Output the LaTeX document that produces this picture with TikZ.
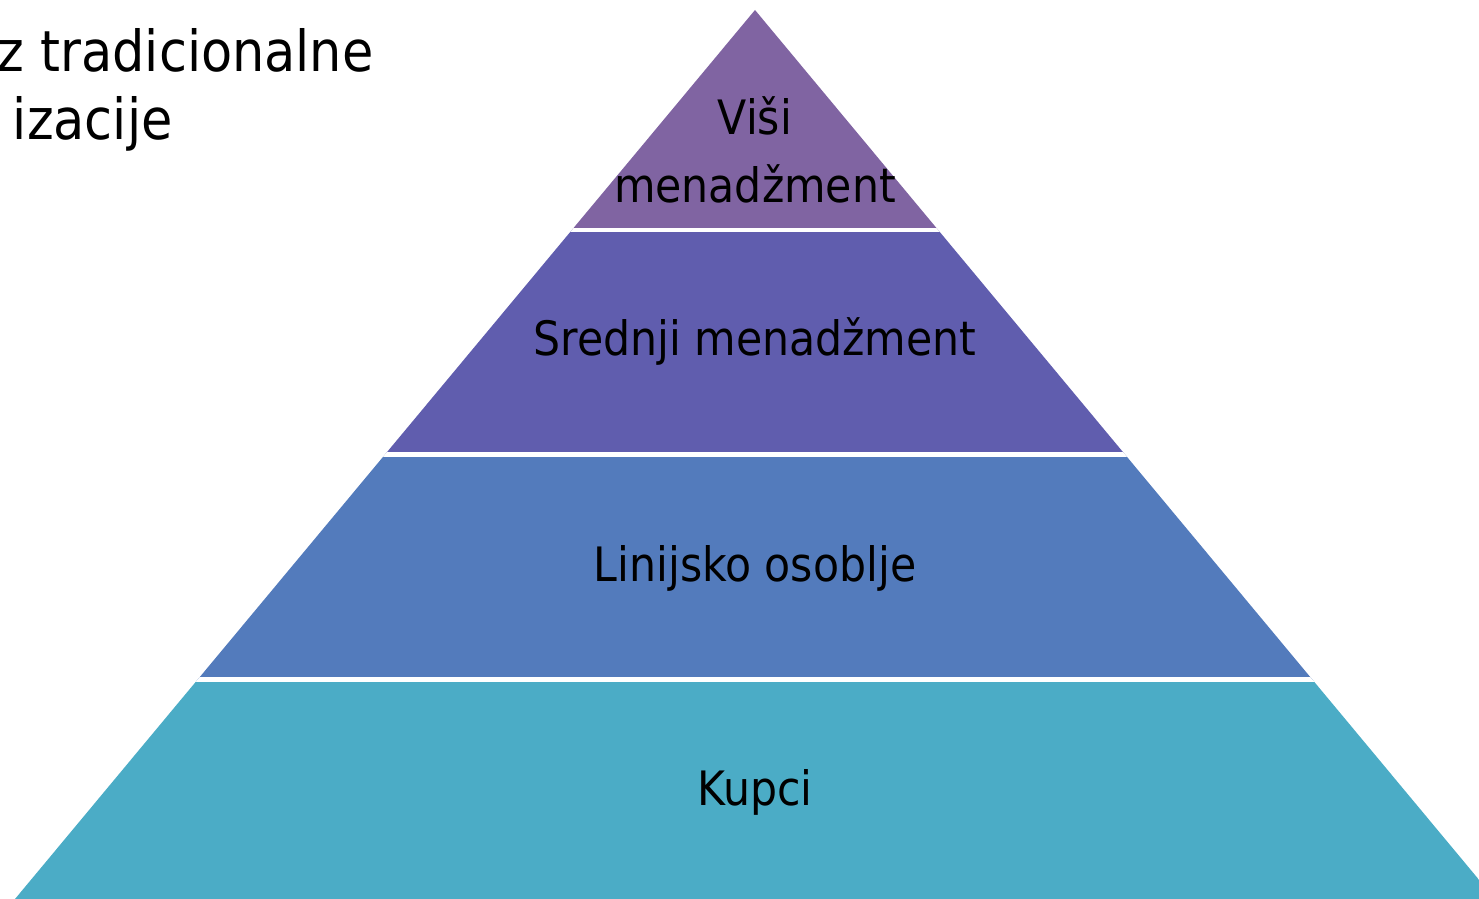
\documentclass[tikz,border=0pt]{standalone}
\usepackage{fontspec}
\setmainfont{DejaVu Sans Condensed}
\definecolor{topcol}{HTML}{8064A2}
\definecolor{midcol}{HTML}{605DAE}
\definecolor{linecol}{HTML}{537BBC}
\definecolor{basecol}{HTML}{4BACC6}
\begin{document}
\begin{tikzpicture}[x=0.5pt, y=-0.5pt,
    lbl/.style={inner sep=0pt, align=center, font=\fontsize{23.7}{34}\selectfont},
    ttl/.style={inner sep=0pt, anchor=base east, font=\fontsize{28.3}{34}\selectfont}]
  \useasboundingbox (0,0) rectangle (1479,899);
  % layers of the pyramid
  \begin{scope}
    \clip (755,10) -- (15,899) -- (1495,899) -- cycle;
    \fill[topcol] (0,0) rectangle (1500,230);
    \fill[midcol] (0,230) rectangle (1500,454.5);
    \fill[linecol] (0,454.5) rectangle (1500,679.5);
    \fill[basecol] (0,679.5) rectangle (1500,910);
    \foreach \y in {230,454.5,679.5}
      \draw[white, line width=2.3pt] (0,\y) -- (1500,\y);
  \end{scope}
  \node[lbl] (visi) at (755,150) {Viši\\menadžment};
  \node[lbl] (srednji) at (755,341) {Srednji menadžment};
  \node[lbl] (linijsko) at (755,568) {Linijsko osoblje};
  \node[lbl] (kupci) at (755,792) {Kupci};
  % heading, running off the left edge
  \node[ttl] (ttl1) at (374,72) {z tradicionalne};
  \node[ttl] (ttl2) at (173,140) {izacije};
\end{tikzpicture}
\end{document}
